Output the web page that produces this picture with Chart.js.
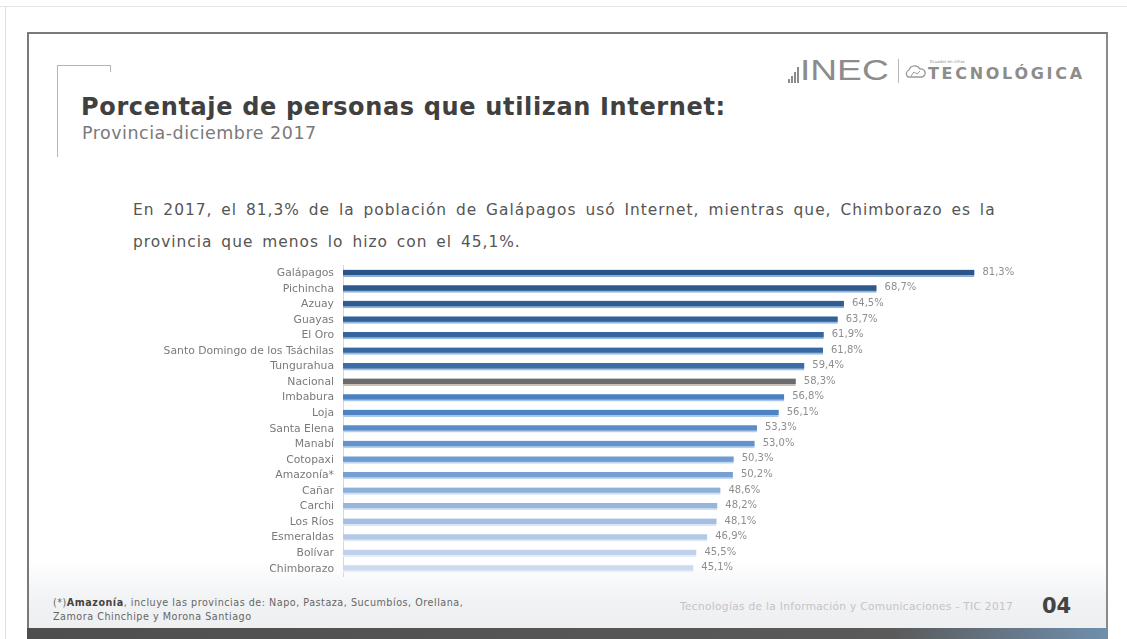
<!DOCTYPE html>
<html lang="es">
<head>
<meta charset="utf-8">
<title>Porcentaje de personas que utilizan Internet</title>
<script src="https://cdn.jsdelivr.net/npm/chart.js@4.4.1/dist/chart.umd.min.js"></script>
<style>
  html, body { margin: 0; padding: 0; background: #ffffff; }
  body { width: 1127px; height: 639px; position: relative; overflow: hidden; font-family: "DejaVu Sans", sans-serif; }
  .page-edge-top { position: absolute; left: 0; top: 6px; width: 1127px; height: 1px; background: #e4e4e4; }
  .page-edge-left { position: absolute; left: 5px; top: 6px; width: 1px; height: 633px; background: #e0e0e0; }
  .slide { position: absolute; left: 27px; top: 32px; width: 1081px; height: 597px; border-top: 2px solid #7a7a7a; border-left: 2px solid #7a7a7a; border-right: 2px solid #8a8a8a; background: #ffffff; box-sizing: border-box; }
  .slide-foot { position: absolute; left: 29px; top: 560px; width: 1077px; height: 69px; background: linear-gradient(180deg, rgba(245,246,248,0) 0%, #f1f2f4 60%, #eeeff1 100%); }
  .bottom-bar { position: absolute; left: 27px; top: 628px; width: 1081px; height: 11px; background: linear-gradient(90deg, #4e4e4e 0%, #5a5a5a 80%, #6f8fae 100%); }
  .bracket-h { position: absolute; left: 57px; top: 65px; width: 54px; height: 1px; background: #b5b5b5; }
  .bracket-t { position: absolute; left: 110px; top: 65px; width: 1px; height: 7px; background: #b5b5b5; }
  .bracket-v { position: absolute; left: 57px; top: 65px; width: 1px; height: 92px; background: #b5b5b5; }
  .title { position: absolute; left: 81px; top: 93px; font-size: 24px; font-weight: bold; color: #404040; white-space: nowrap; letter-spacing: 0.65px; }
  .subtitle { position: absolute; left: 82px; top: 123px; font-size: 17.5px; color: #7a7a7a; white-space: nowrap; letter-spacing: 0.5px; }
  .lead { position: absolute; left: 133px; font-size: 15.4px; color: #555555; white-space: nowrap; letter-spacing: 1px; word-spacing: 3px; }
  .logo { position: absolute; left: 786px; top: 59px; height: 30px; white-space: nowrap; color: #8c8c8c; }
  .logo .bars { position: absolute; left: 0; top: 0; width: 16px; height: 24px; }
  .logo .bars i { position: absolute; bottom: 0; width: 2px; background: #8c8c8c; }
  .logo .inec { position: absolute; left: 14px; top: -5px; font-size: 29px; font-family: "Liberation Sans", sans-serif; font-weight: normal; transform: scaleX(1.28); transform-origin: left top; }
  .logo .sep { position: absolute; left: 112px; top: 0px; width: 1px; height: 24px; background: #b8b8b8; }
  .logo .tec { position: absolute; left: 142px; top: 5px; font-size: 16px; font-weight: bold; letter-spacing: 2.7px; }
  .logo .tiny { position: absolute; left: 144px; top: 0px; font-size: 4px; }
  .chart-box { position: absolute; left: 140px; top: 250px; width: 910px; height: 342px; }
  .note { position: absolute; left: 53px; top: 596px; font-size: 9.6px; color: #666; line-height: 14px; white-space: nowrap; letter-spacing: 0.52px; }
  .note b { color: #444; }
  .source { position: absolute; left: 680px; top: 600px; font-size: 10.6px; color: #c4c4c4; white-space: nowrap; letter-spacing: 0.32px; }
  .pagenum { position: absolute; left: 1042px; top: 594px; font-size: 21px; font-weight: bold; color: #444; }
</style>
</head>
<body>
<div class="page-edge-top"></div>
<div class="page-edge-left"></div>
<div class="slide"></div>
<div class="slide-foot"></div>
<div class="bottom-bar"></div>

<div class="bracket-h"></div>
<div class="bracket-t"></div>
<div class="bracket-v"></div>
<div class="title">Porcentaje de personas que utilizan Internet:</div>
<div class="subtitle">Provincia-diciembre 2017</div>

<div class="logo">
  <div class="bars"><i style="left:2px;height:4px"></i><i style="left:5px;height:7px"></i><i style="left:8px;height:11px"></i><i style="left:11px;height:16px"></i></div>
  <div class="inec">INEC</div>
  <div class="sep"></div>
  <svg style="position:absolute;left:118px;top:5px" width="22" height="16" viewBox="0 0 22 16">
    <path d="M4 13 A4 4 0 0 1 5 6 A6 6 0 0 1 16 5 A4 4 0 0 1 18 13 Z" fill="none" stroke="#9a9a9a" stroke-width="1.3"/>
    <path d="M7 12 L10 8 L13 10 L16 7" fill="none" stroke="#9a9a9a" stroke-width="1"/>
  </svg>
  <div class="tiny">Ecuador en cifras</div>
  <div class="tec">TECNOLÓGICA</div>
</div>

<div class="lead" style="top:201px">En 2017, el 81,3% de la población de Galápagos usó Internet, mientras que, Chimborazo es la</div>
<div class="lead" style="top:233px">provincia que menos lo hizo con el 45,1%.</div>

<div class="chart-box"><canvas id="chart"></canvas></div>

<div class="note">(*)<b>Amazonía</b>, incluye las provincias de: Napo, Pastaza, Sucumbíos, Orellana,<br>Zamora Chinchipe y Morona Santiago</div>
<div class="source">Tecnologías de la Información y Comunicaciones - TIC 2017</div>
<div class="pagenum">04</div>

<script>
// Provinces, ordered from highest to lowest share of Internet users
const provincias = [
  "Galápagos", "Pichincha", "Azuay", "Guayas", "El Oro",
  "Santo Domingo de los Tsáchilas", "Tungurahua", "Nacional", "Imbabura", "Loja",
  "Santa Elena", "Manabí", "Cotopaxi", "Amazonía*", "Cañar",
  "Carchi", "Los Ríos", "Esmeraldas", "Bolívar", "Chimborazo"
];

// Percentage of people who used Internet, December 2017
const porcentajes = [
  81.3, 68.7, 64.5, 63.7, 61.9,
  61.8, 59.4, 58.3, 56.8, 56.1,
  53.3, 53.0, 50.3, 50.2, 48.6,
  48.2, 48.1, 46.9, 45.5, 45.1
];

// Bar fills: dark blues for the top group, grey for the national figure, paler blues below
const rellenos = [
  "#2b5588", "#2d598d", "#2f5d93", "#316198", "#34659e",
  "#3768a2", "#3c6da8", "#6b6b6b", "#4a80c0", "#4d83c3",
  "#5a8cc8", "#6293cb", "#6e9bd0", "#76a0d2", "#8eb0da",
  "#98b6dc", "#a4bfe1", "#b3c9e6", "#c0d1ea", "#ccd9ee"
];
const bordes = [
  "#8fb0d4", "#90b2d6", "#92b4d8", "#94b6da", "#97b9dc",
  "#99bbde", "#9cbee0", "#c9c2ba", "#a8c6e6", "#aac8e7",
  "#b2cdea", "#b7d0eb", "#bdd4ed", "#c1d7ee", "#cddff2",
  "#d2e2f3", "#d8e6f5", "#dfeaf6", "#e5eef8", "#eaf1f9"
];

const formato = v => v.toFixed(1).replace(".", ",") + "%";

// Writes each value just past the end of its bar
const etiquetasValor = {
  id: "etiquetasValor",
  afterDatasetsDraw(chart) {
    const { ctx } = chart;
    const meta = chart.getDatasetMeta(0);
    ctx.save();
    ctx.font = "10px 'DejaVu Sans', sans-serif";
    ctx.fillStyle = "#8e8e8e";
    ctx.textAlign = "left";
    ctx.textBaseline = "middle";
    meta.data.forEach((bar, i) => {
      ctx.fillText(formato(porcentajes[i]), bar.x + 8, bar.y - 1);
    });
    ctx.restore();
  }
};

new Chart(document.getElementById("chart"), {
  type: "bar",
  data: {
    labels: provincias,
    datasets: [{
      data: porcentajes,
      backgroundColor: rellenos,
      borderColor: bordes,
      borderWidth: { top: 0, left: 0, right: 0, bottom: 2 },
      borderSkipped: false,
      barThickness: 7
    }]
  },
  options: {
    indexAxis: "y",
    responsive: true,
    maintainAspectRatio: false,
    animation: false,
    layout: { padding: { top: 10, bottom: 10, right: 8, left: 0 } },
    plugins: {
      legend: { display: false },
      tooltip: { enabled: false }
    },
    scales: {
      x: {
        display: false,
        min: 0,
        max: 90
      },
      y: {
        afterFit(scale) { scale.width = 203; },
        grid: { display: false, drawTicks: false },
        border: { display: true, color: "#d8d8d8", width: 1 },
        ticks: {
          padding: 9,
          color: "#7a7a7a",
          font: { family: "'DejaVu Sans', sans-serif", size: 10.8 },
          autoSkip: false
        }
      }
    }
  },
  plugins: [etiquetasValor]
});
</script>
</body>
</html>
